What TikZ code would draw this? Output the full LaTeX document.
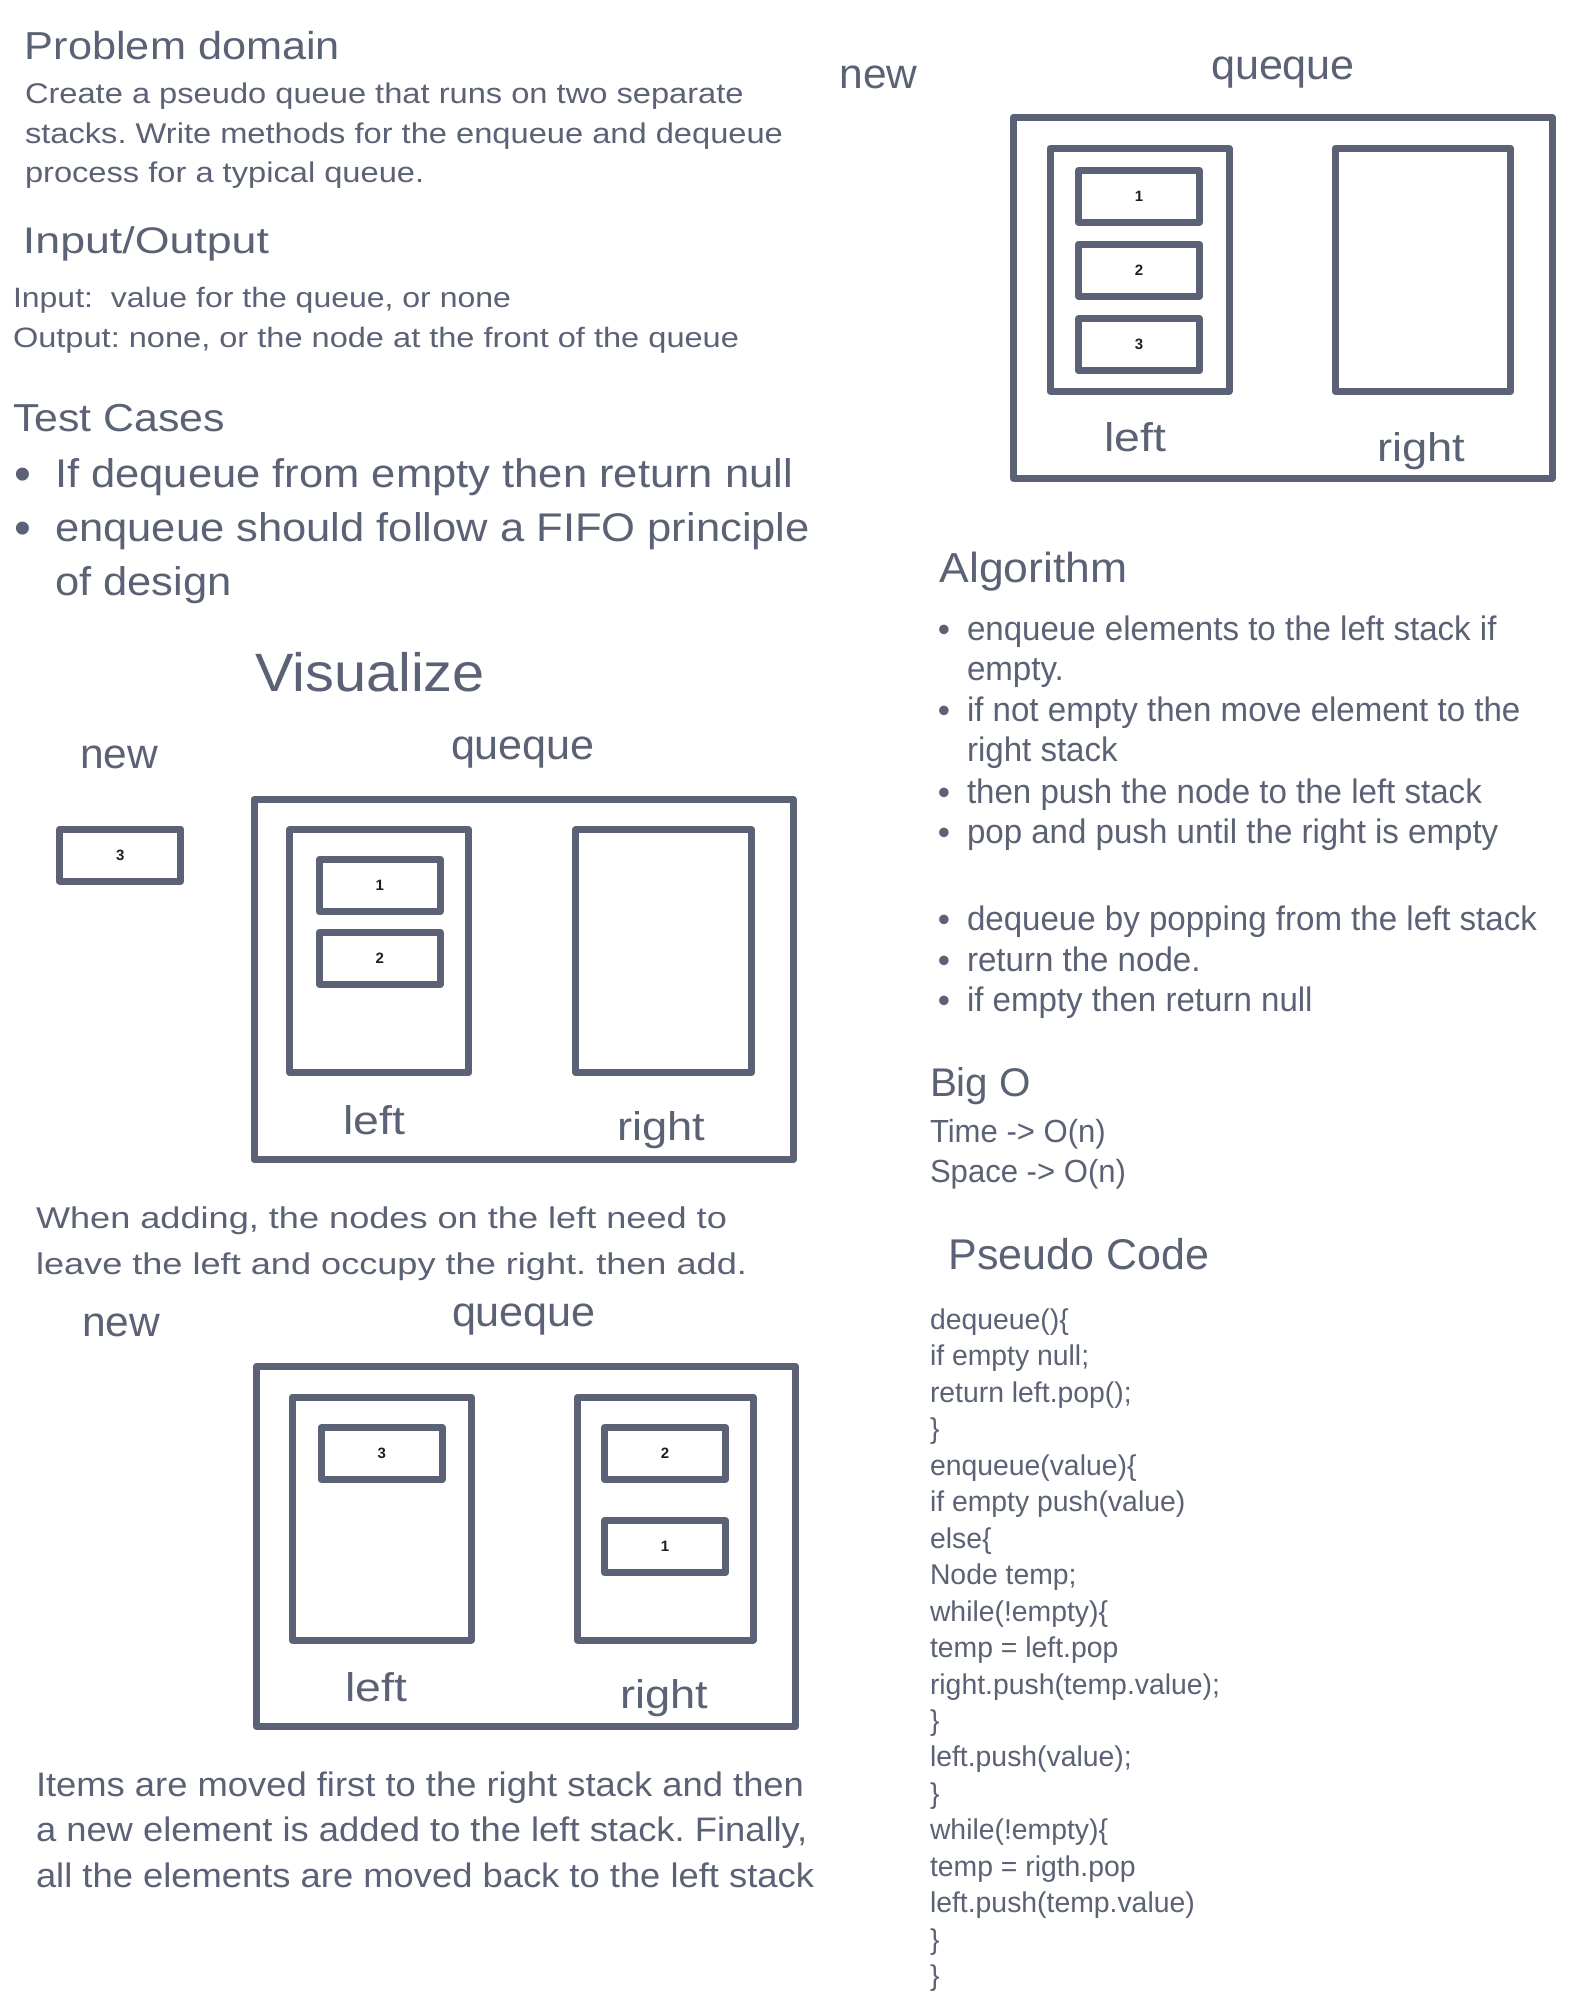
\documentclass[tikz,border=0pt]{standalone}
\usepackage{fontspec}
\usepackage{graphicx}
\setmainfont{Liberation Sans}

\definecolor{ink}{HTML}{5C6275}
\definecolor{digit}{HTML}{1E1E1E}

% horizontal fitting helpers (widths given in drawing units, 1 unit = 0.5pt)
\newlength\natw
\newcommand\calcratio[4]{{#2\settowidth\natw{#4}\pgfmathsetmacro\tmpr{#3*0.5pt/\natw}\expandafter\xdef\csname #1\endcsname{\tmpr}}}
\newcommand\fitw[2]{\settowidth\natw{#2}\pgfmathsetmacro\tmpr{#1*0.5pt/\natw}\scalebox{\tmpr}[1]{#2}}

% type sizes
\newcommand\fPD{\fontsize{19.5pt}{24pt}\selectfont}
\newcommand\fPara{\fontsize{14.25pt}{18pt}\selectfont}
\newcommand\fIOH{\fontsize{18.5pt}{22pt}\selectfont}
\newcommand\fIO{\fontsize{14pt}{17pt}\selectfont}
\newcommand\fTC{\fontsize{19.5pt}{24pt}\selectfont}
\newcommand\fTB{\fontsize{20pt}{24pt}\selectfont}
\newcommand\fVis{\fontsize{27pt}{32pt}\selectfont}
\newcommand\fLblA{\fontsize{21pt}{25pt}\selectfont}
\newcommand\fLblB{\fontsize{20pt}{24pt}\selectfont}
\newcommand\fCapA{\fontsize{15pt}{18pt}\selectfont}
\newcommand\fCapB{\fontsize{17pt}{20pt}\selectfont}
\newcommand\fAlgH{\fontsize{21pt}{25pt}\selectfont}
\newcommand\fAlg{\fontsize{17pt}{20pt}\selectfont}
\newcommand\fBigH{\fontsize{20pt}{24pt}\selectfont}
\newcommand\fBig{\fontsize{16pt}{19pt}\selectfont}
\newcommand\fPCH{\fontsize{21.5pt}{26pt}\selectfont}
\newcommand\fCode{\fontsize{14.3pt}{17pt}\selectfont}
\newcommand\fDig{\fontsize{7.5pt}{9pt}\selectfont\bfseries}
\newcommand\fBulL{\fontsize{24pt}{27pt}\selectfont}
\newcommand\fBulR{\fontsize{17.5pt}{20pt}\selectfont}

\tikzset{
  t/.style={inner sep=0pt, outer sep=0pt, text=ink, anchor=base west},
  tc/.style={inner sep=0pt, outer sep=0pt, text=ink, anchor=base},
  bul/.style={inner sep=0pt, outer sep=0pt, text=ink, anchor=center},
  frame/.style={draw=ink, line width=3.5pt, line join=round, inner sep=0pt},
  item/.style={frame, minimum width=60.5pt, minimum height=26pt, text=digit, font=\fDig},
  lstack/.style={frame, minimum width=89.5pt, minimum height=121.5pt},
  rstack/.style={frame, minimum width=87.75pt, minimum height=121.5pt},
  qbox/.style={frame, minimum width=269.5pt, minimum height=180.25pt},
}

\begin{document}
\frenchspacing
% shared horizontal ratios per text group
\calcratio{rpara}{\fPara}{758}{stacks. Write methods for the enqueue and dequeue}%
\calcratio{rio}{\fIO}{726}{Output: none, or the node at the front of the queue}%
\calcratio{rtb}{\fTB}{738}{If dequeue from empty then return null}%
\calcratio{rcapa}{\fCapA}{691}{When adding, the nodes on the left need to}%
\calcratio{rcapb}{\fCapB}{768}{Items are moved first to the right stack and then}%
\calcratio{ralg}{\fAlg}{570}{dequeue by popping from the left stack}%
\calcratio{rbig}{\fBig}{196}{Space -> O(n)}%
\calcratio{rcode}{\fCode}{290}{right.push(temp.value);}%
\begin{tikzpicture}[x=0.5pt, y=-0.5pt]
\fill[white] (0,0) rectangle (1592,2008);
\useasboundingbox (0,0) rectangle (1592,2008);

% ---------------- left column: problem statement ----------------
\node[t, font=\fPD] (pdHead) at (25,59) {\fitw{315}{Problem domain}};
\node[t, font=\fPara] (pd1) at (25,103.5) {\scalebox{\rpara}[1]{Create a pseudo queue that runs on two separate}};
\node[t, font=\fPara] (pd2) at (25,143) {\scalebox{\rpara}[1]{stacks. Write methods for the enqueue and dequeue}};
\node[t, font=\fPara] (pd3) at (25,182.5) {\scalebox{\rpara}[1]{process for a typical queue.}};

\node[t, font=\fIOH] (ioHead) at (23,253) {\fitw{246}{Input/Output}};
\node[t, font=\fIO] (io1) at (13,307) {\fitw{498}{Input:~ value for the queue, or none}};
\node[t, font=\fIO] (io2) at (13,347) {\scalebox{\rio}[1]{Output: none, or the node at the front of the queue}};

\node[t, font=\fTC] (tcHead) at (13,431) {\fitw{212}{Test Cases}};
\node[bul, font=\fBulL] (tcBul1) at (23,479) {•};
\node[t, font=\fTB] (tc1) at (55,487) {\scalebox{\rtb}[1]{If dequeue from empty then return null}};
\node[bul, font=\fBulL] (tcBul2) at (23,533) {•};
\node[t, font=\fTB] (tc2) at (55,541) {\scalebox{\rtb}[1]{enqueue should follow a FIFO principle}};
\node[t, font=\fTB] (tc3) at (55,595) {\scalebox{\rtb}[1]{of design}};

% ---------------- first snapshot: 1,2 in left, 3 waiting ----------------
\node[t, font=\fVis] (visHead) at (255,691.5) {\fitw{230}{Visualize}};
\node[tc, font=\fLblA] (newB) at (119,768) {\fitw{78}{new}};
\node[tc, font=\fLblA] (queB) at (523,759.5) {\fitw{144}{queque}};
\node[item] (newItemB) at (120.25,855) {3};
\node[qbox] (qB) at (523.5,979.5) {};
\node[lstack] (lsB) at (379.25,951.25) {};
\node[rstack] (rsB) at (663.5,951.25) {};
\node[item] (b1) at (379.75,885.5) {1};
\node[item] (b2) at (379.75,958.5) {2};
\node[tc, font=\fLblB] (leftB) at (374.5,1134) {\fitw{62}{left}};
\node[tc, font=\fLblB] (rightB) at (661.5,1140) {\fitw{88}{right}};

\node[t, font=\fCapA] (capA1) at (36,1228) {\scalebox{\rcapa}[1]{When adding, the nodes on the left need to}};
\node[t, font=\fCapA] (capA2) at (36,1274) {\scalebox{\rcapa}[1]{leave the left and occupy the right. then add.}};

% ---------------- second snapshot: 3 in left, 2,1 in right ----------------
\node[tc, font=\fLblA] (newC) at (121,1336) {\fitw{78}{new}};
\node[tc, font=\fLblA] (queC) at (524,1326) {\fitw{144}{queque}};
\node[qbox] (qC) at (526,1546.25) {};
\node[lstack] (lsC) at (381.75,1518.5) {};
\node[rstack] (rsC) at (665.4,1518.5) {};
\node[item] (c3) at (381.75,1453.5) {3};
\node[item] (c2) at (665,1453.5) {2};
\node[item] (c1) at (665,1546.6) {1};
\node[tc, font=\fLblB] (leftC) at (376.5,1701) {\fitw{62}{left}};
\node[tc, font=\fLblB] (rightC) at (664,1708) {\fitw{88}{right}};

\node[t, font=\fCapB] (capB1) at (36,1796) {\scalebox{\rcapb}[1]{Items are moved first to the right stack and then}};
\node[t, font=\fCapB] (capB2) at (36,1841) {\scalebox{\rcapb}[1]{a new element is added to the left stack. Finally,}};
\node[t, font=\fCapB] (capB3) at (36,1887) {\scalebox{\rcapb}[1]{all the elements are moved back to the left stack}};

% ---------------- final state: 1,2,3 in left ----------------
\node[tc, font=\fLblA] (newA) at (878.5,88) {\fitw{78}{new}};
\node[tc, font=\fLblA] (queA) at (1283,79.5) {\fitw{144}{queque}};
\node[qbox] (qA) at (1282.75,297.75) {};
\node[lstack] (lsA) at (1139.5,269.75) {};
\node[rstack] (rsA) at (1423,269.75) {};
\node[item] (a1) at (1139,196.25) {1};
\node[item] (a2) at (1139,270.25) {2};
\node[item] (a3) at (1139,344.75) {3};
\node[tc, font=\fLblB] (leftA) at (1135,451) {\fitw{62}{left}};
\node[tc, font=\fLblB] (rightA) at (1421.5,461) {\fitw{88}{right}};

% ---------------- right column: algorithm ----------------
\node[t, font=\fAlgH] (algHead) at (939.5,582.5) {\fitw{188}{Algorithm}};
\foreach \yy/\txt/\hasbul [count=\k] in {
  640.5/{enqueue elements to the left stack if}/1,
  680.7/{empty.}/0,
  721/{if not empty then move element to the}/1,
  761/{right stack}/0,
  803.5/{then push the node to the left stack}/1,
  843.6/{pop and push until the right is empty}/1,
  930.7/{dequeue by popping from the left stack}/1,
  971/{return the node.}/1,
  1011.5/{if empty then return null}/1}{
  \node[t, font=\fAlg] (alg\k) at (967,\yy) {\scalebox{\ralg}[1]{\txt}};
  \ifnum\hasbul=1
    \node[bul, font=\fBulR] (algBul\k) at (944,\yy-7) {•};
  \fi
}

% ---------------- complexity ----------------
\node[t, font=\fBigH] (bigHead) at (930,1096) {\fitw{101}{Big O}};
\node[t, font=\fBig] (big1) at (930,1142) {\scalebox{\rbig}[1]{Time -> O(n)}};
\node[t, font=\fBig] (big2) at (930,1182) {\scalebox{\rbig}[1]{Space -> O(n)}};

% ---------------- pseudo code ----------------
\node[t, font=\fPCH] (pcHead) at (948.5,1269.5) {\fitw{260.5}{Pseudo Code}};
\foreach \ln [count=\i from 0] in {
  {dequeue()\{}, {if empty null;}, {return left.pop();}, {\}},
  {enqueue(value)\{}, {if empty push(value)}, {else\{}, {Node temp;},
  {while(!empty)\{}, {temp = left.pop}, {right.push(temp.value);}, {\}},
  {left.push(value);}, {\}}, {while(!empty)\{}, {temp = rigth.pop},
  {left.push(temp.value)}, {\}}, {\}}}{
  \node[t, font=\fCode] (code\i) at (930,1329.5+36.45*\i) {\scalebox{\rcode}[1]{\ln}};
}
\end{tikzpicture}
\end{document}
